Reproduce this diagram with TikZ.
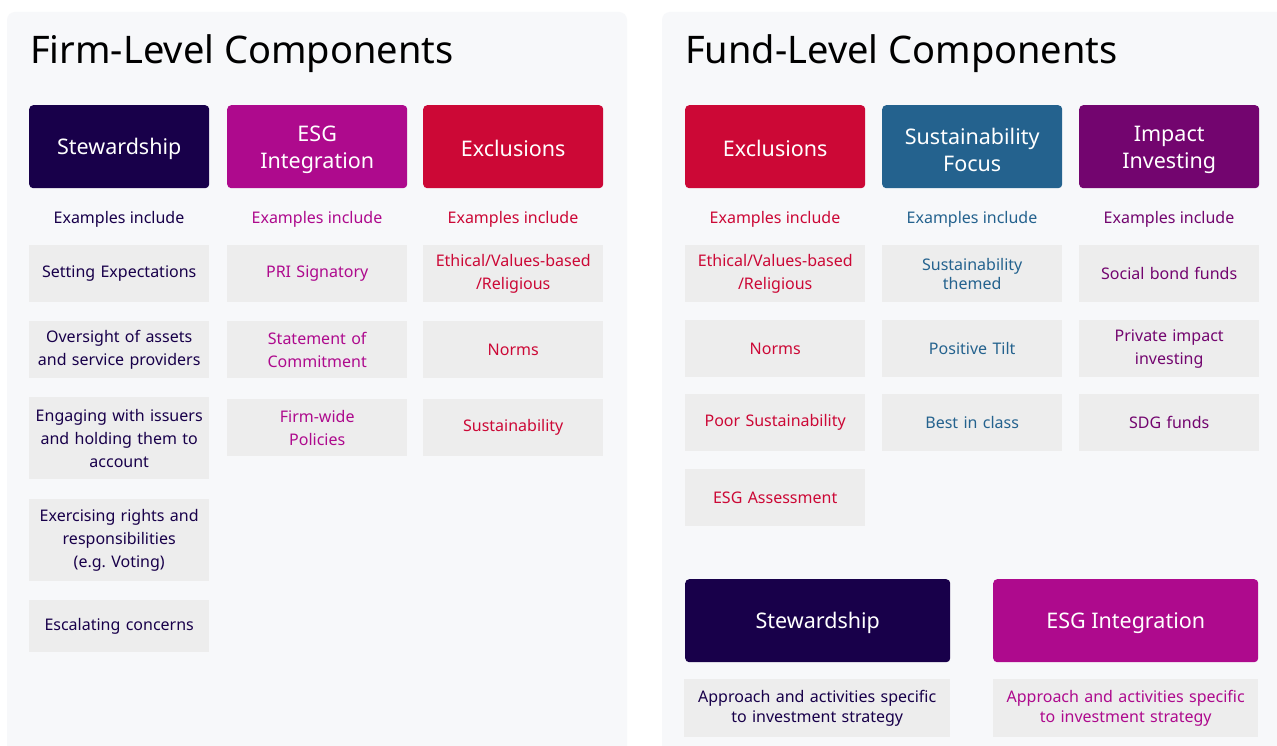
\documentclass[tikz,border=0pt]{standalone}
\usepackage{fontspec}
\setmainfont{Noto Sans}
\definecolor{panelbg}{HTML}{F7F8FA}
\definecolor{itemgray}{HTML}{EDEDED}
\definecolor{stewc}{HTML}{18004A}
\definecolor{esgc}{HTML}{AE0A8D}
\definecolor{exclc}{HTML}{CC0836}
\definecolor{sustc}{HTML}{24628E}
\definecolor{impc}{HTML}{73056F}
\begin{document}
\begin{tikzpicture}[x=1pt,y=-1pt,
  panel/.style={fill=panelbg, rounded corners=8pt},
  title/.style={anchor=base west, inner sep=0, font=\fontsize{38}{44}\selectfont},
  hdr/.style={rounded corners=4pt, anchor=north west, minimum width=180pt, minimum height=83pt,
    text=white, align=center, inner sep=0, font=\fontsize{21.5}{26}\selectfont},
  htxt/.style={inner sep=0, text=white, align=center, font=\fontsize{21.5}{27}\selectfont},
  ex/.style={inner sep=0, font=\fontsize{16}{18}\selectfont},
  item/.style={fill=itemgray, anchor=north west, minimum width=180pt, text width=178pt,
    align=center, inner sep=0, font=\fontsize{16}{23}\selectfont}]
\useasboundingbox (0,0) rectangle (1277,746);
\clip (0,0) rectangle (1277,746);
\fill[white] (0,0) rectangle (1277,746);

% panels
\fill[panel] (7,12) rectangle (627,780);
\fill[panel] (662,12) rectangle (1300,780);

\node[title] (t1) at (30,64) {Firm-Level Components};
\node[title] (t2) at (685,64) {Fund-Level Components};

% firm-level headers
\node[hdr, fill=stewc] (fs) at (29,105) {};
\node[hdr, fill=esgc] (fe) at (227,105) {};
\node[hdr, fill=exclc] (fx) at (423,105) {};
\node[htxt] (fst) at ([yshift=-2pt]fs.center) {Stewardship};
\node[htxt] (fet) at ([yshift=-3pt]fe.center) {ESG\\Integration};
\node[htxt] (fxt) at ([yshift=-2pt]fx.center) {Exclusions};

\node[ex, text=stewc] (fsx) at (119,219) {Examples include};
\node[ex, text=esgc] (fex) at (317,219) {Examples include};
\node[ex, text=exclc] (fxx) at (513,219) {Examples include};

% stewardship items
\node[item, text=stewc, minimum height=57pt] (fs1) at (29,245) {Setting Expectations};
\node[item, text=stewc, minimum height=57pt] (fs2) at (29,321) {Oversight of assets\\and service providers};
\node[item, text=stewc, minimum height=82pt] (fs3) at (29,397) {Engaging with issuers\\and holding them to\\account};
\node[item, text=stewc, minimum height=82pt] (fs4) at (29,499) {Exercising rights and\\responsibilities\\(e.g.\ Voting)};
\node[item, text=stewc, minimum height=52pt] (fs5) at (29,600) {Escalating concerns};

% esg items
\node[item, text=esgc, minimum height=57pt] (fe1) at (227,245) {PRI Signatory};
\node[item, text=esgc, minimum height=57pt] (fe2) at (227,321) {Statement of\\Commitment};
\node[item, text=esgc, minimum height=57pt] (fe3) at (227,399) {Firm-wide\\Policies};

% exclusion items
\node[item, text=exclc, minimum height=57pt] (fx1) at (423,245) {Ethical/Values-based\\/Religious};
\node[item, text=exclc, minimum height=57pt] (fx2) at (423,321) {Norms};
\node[item, text=exclc, minimum height=57pt] (fx3) at (423,399) {Sustainability};

% fund-level headers
\node[hdr, fill=exclc] (ux) at (685,105) {};
\node[hdr, fill=sustc] (us) at (882,105) {};
\node[hdr, fill=impc] (ui) at (1079,105) {};
\node[htxt] (uxt) at ([yshift=-2pt]ux.center) {Exclusions};
\node[htxt] (ust) at ([yshift=-3pt]us.center) {Sustainability\\Focus};
\node[htxt] (uit) at ([yshift=-3pt]ui.center) {Impact\\Investing};

\node[ex, text=exclc] (uxx) at (775,219) {Examples include};
\node[ex, text=sustc] (usx) at (972,219) {Examples include};
\node[ex, text=impc] (uix) at (1169,219) {Examples include};

\node[item, text=exclc, minimum height=57pt] (ux1) at (685,245) {Ethical/Values-based\\/Religious};
\node[item, text=exclc, minimum height=57pt] (ux2) at (685,320) {Norms};
\node[item, text=exclc, minimum height=57pt] (ux3) at (685,394) {Poor Sustainability};
\node[item, text=exclc, minimum height=57pt] (ux4) at (685,469) {ESG Assessment};

\node[item, text=sustc, minimum height=57pt, font=\fontsize{16}{19}\selectfont] (us1) at (882,245) {Sustainability\\themed};
\node[item, text=sustc, minimum height=57pt] (us2) at (882,320) {Positive Tilt};
\node[item, text=sustc, minimum height=57pt] (us3) at (882,394) {Best in class};

\node[item, text=impc, minimum height=57pt] (ui1) at (1079,245) {Social bond funds};
\node[item, text=impc, minimum height=57pt] (ui2) at (1079,320) {Private impact\\investing};
\node[item, text=impc, minimum height=57pt] (ui3) at (1079,394) {SDG funds};

% fund-level stewardship and ESG integration
\node[hdr, fill=stewc, minimum width=265pt] (bs) at (685,579) {};
\node[hdr, fill=esgc, minimum width=265pt] (be) at (993,579) {};
\node[htxt] (bst) at ([yshift=-2pt]bs.center) {Stewardship};
\node[htxt] (bet) at ([yshift=-2pt]be.center) {ESG Integration};
\node[item, text=stewc, minimum width=266pt, text width=262pt, minimum height=58pt,
  font=\fontsize{16}{20}\selectfont] (bs1) at (684,679) {Approach and activities specific\\to investment strategy};
\node[item, text=esgc, minimum width=265pt, text width=262pt, minimum height=58pt,
  font=\fontsize{16}{20}\selectfont] (be1) at (993,679) {Approach and activities specific\\to investment strategy};
\end{tikzpicture}
\end{document}
